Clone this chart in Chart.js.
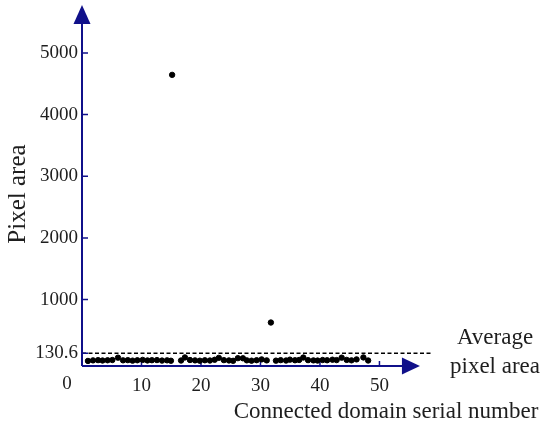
<!DOCTYPE html>
<html>
<head>
<meta charset="utf-8">
<script src="https://cdn.jsdelivr.net/npm/chart.js@4/dist/chart.umd.min.js"></script>
<style>
  html, body { margin: 0; padding: 0; background: #fff; }
  #wrap { width: 550px; height: 430px; }
</style>
</head>
<body>
<div id="wrap"><canvas id="chart"></canvas></div>
<script>
// serial number of each connected domain and its pixel area
const serialNumbers = [
  1.0, 1.85, 2.7, 3.45, 4.3, 5.1, 6.05, 6.9, 7.7, 8.5, 9.3, 10.2, 11.0, 11.75, 12.6,
  13.45, 14.3, 14.95, 15.15, 16.65, 17.3, 18.15, 19.0, 19.8, 20.65, 21.5, 22.3, 23.0,
  23.85, 24.7, 25.4, 26.2, 27.05, 27.7, 28.5, 29.35, 30.2, 31.05, 31.75, 32.6, 33.4,
  34.3, 34.95, 35.8, 36.5, 37.2, 38.0, 38.9, 39.6, 40.45, 41.2, 42.1, 42.8, 43.65,
  44.5, 45.3, 46.15, 47.3, 48.1
];
const pixelAreas = [
  5, 14, 18, 12, 16, 20, 58, 15, 18, 10, 16, 22, 13, 17, 19,
  11, 15, 8, 4644, 12, 62, 20, 14, 9, 16, 12, 24, 55,
  18, 13, 7, 50, 48, 15, 9, 17, 30, 14, 628, 10, 18,
  12, 26, 16, 21, 60, 18, 14, 11, 20, 16, 25, 19, 58,
  22, 15, 30, 62, 12
];
const averageArea = 130.6;
const yTicks = [130.6, 1000, 2000, 3000, 4000, 5000];
const xTicks = [10, 20, 30, 40, 50];

const axisColor = '#10108a';
const textColor = '#1e1e1e';
const serif = '"Liberation Serif", "DejaVu Serif", serif';

const points = serialNumbers.map((x, i) => ({ x: x, y: pixelAreas[i] }));

function arrow(ctx, tipX, tipY, dir) {
  ctx.beginPath();
  if (dir === 'up') {
    ctx.moveTo(tipX, tipY);
    ctx.lineTo(tipX - 8.5, tipY + 19);
    ctx.lineTo(tipX + 8.5, tipY + 19);
  } else {
    ctx.moveTo(tipX, tipY);
    ctx.lineTo(tipX - 18, tipY - 8.5);
    ctx.lineTo(tipX - 18, tipY + 8.5);
  }
  ctx.closePath();
  ctx.fill();
}

const decorations = {
  id: 'decorations',
  beforeDatasetsDraw(chart) {
    const { ctx, chartArea, scales } = chart;
    const x = scales.x, y = scales.y;
    const left = chartArea.left, bottom = chartArea.bottom;
    ctx.save();

    // average line
    const yAvg = y.getPixelForValue(averageArea);
    ctx.strokeStyle = '#000';
    ctx.lineWidth = 1.5;
    ctx.setLineDash([4, 2.5]);
    ctx.beginPath();
    ctx.moveTo(left, yAvg);
    ctx.lineTo(chartArea.right, yAvg);
    ctx.stroke();
    ctx.setLineDash([]);

    // axes
    ctx.strokeStyle = axisColor;
    ctx.fillStyle = axisColor;
    ctx.lineWidth = 2;
    const xEnd = x.getPixelForValue(56.8);
    ctx.beginPath();
    ctx.moveTo(left, bottom);
    ctx.lineTo(xEnd - 10, bottom);
    ctx.moveTo(left, bottom);
    ctx.lineTo(left, chartArea.top + 10);
    ctx.stroke();
    arrow(ctx, left, chartArea.top, 'up');
    arrow(ctx, xEnd, bottom, 'right');

    // tick marks
    ctx.lineWidth = 1.5;
    ctx.beginPath();
    yTicks.forEach(v => {
      const p = y.getPixelForValue(v);
      ctx.moveTo(left, p);
      ctx.lineTo(left + 6, p);
    });
    xTicks.forEach(v => {
      const p = x.getPixelForValue(v);
      ctx.moveTo(p, bottom);
      ctx.lineTo(p, bottom - 5);
    });
    ctx.stroke();

    // texts
    ctx.fillStyle = textColor;
    ctx.textAlign = 'center';
    ctx.textBaseline = 'alphabetic';
    ctx.font = '19px ' + serif;
    ctx.fillText('0', 67, 389);
    ctx.font = '23px ' + serif;
    ctx.fillText('Average', 495, 344);
    ctx.fillText('pixel area', 495, 373);
    ctx.fillText('Connected domain serial number', 386, 418);
    ctx.font = '25px ' + serif;
    ctx.translate(25, 194);
    ctx.rotate(-Math.PI / 2);
    ctx.fillText('Pixel area', 0, 0);
    ctx.restore();
  }
};

new Chart(document.getElementById('chart'), {
  type: 'scatter',
  data: {
    datasets: [{
      data: points,
      backgroundColor: '#000',
      borderColor: '#000',
      pointRadius: 2.7,
      pointHoverRadius: 2.7,
      clip: false
    }]
  },
  options: {
    responsive: true,
    maintainAspectRatio: false,
    animation: false,
    layout: { padding: { top: 5, right: 117, left: 0, bottom: 0 } },
    plugins: {
      legend: { display: false },
      tooltip: { enabled: false }
    },
    scales: {
      x: {
        type: 'linear',
        min: 0,
        max: 59,
        grid: { display: false, drawTicks: false },
        border: { display: false },
        afterBuildTicks: (scale) => { scale.ticks = xTicks.map(v => ({ value: v })); },
        afterFit: (scale) => { scale.height = 64; scale.paddingLeft = 0; scale.paddingRight = 0; },
        ticks: {
          padding: 9,
          color: textColor,
          font: { family: serif, size: 19 },
          maxRotation: 0
        }
      },
      y: {
        type: 'linear',
        min: -77,
        max: 5777,
        grid: { display: false, drawTicks: false },
        border: { display: false },
        afterBuildTicks: (scale) => { scale.ticks = yTicks.map(v => ({ value: v })); },
        afterFit: (scale) => { scale.width = 82; scale.paddingTop = 0; scale.paddingBottom = 0; },
        ticks: {
          padding: 4,
          color: textColor,
          font: { family: serif, size: 19 },
          callback: (v) => String(v)
        }
      }
    }
  },
  plugins: [decorations]
});
</script>
</body>
</html>
